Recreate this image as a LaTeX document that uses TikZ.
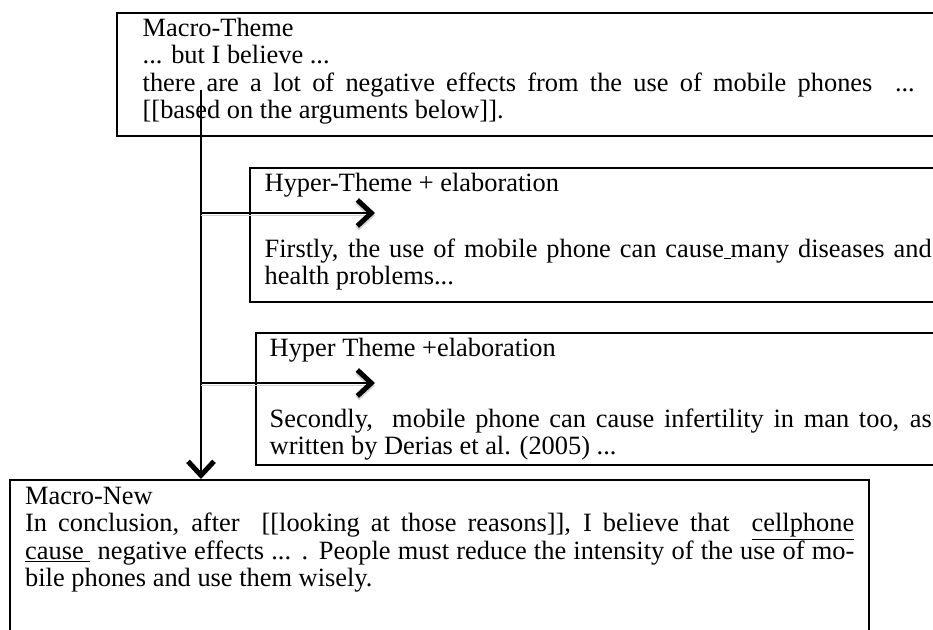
\documentclass[tikz,border=0pt]{standalone}
\usepackage{fontspec}
\setmainfont{Liberation Serif}
\usepackage{tikz}
\usetikzlibrary{arrows.meta}
\def\spineX{201}
\def\tipX{375}

\tikzset{
  panel/.style={draw, line width=2.4pt, anchor=north west, inner ysep=3.75pt,
    font=\fontsize{26.4}{27.5}\selectfont},
  flow/.style={line width=2pt, -{Straight Barb[length=14pt, width=26pt, line width=5pt]}},
  shade/.style={preaction={draw=gray!35, transform canvas={yshift=-2.5pt}}},
}

\begin{document}
\begin{tikzpicture}[x=1pt, y=-1pt]
            \useasboundingbox (0,0) rectangle (933,629);
            \clip (0,0) rectangle (933,629);

            % Draw theme boxes
            \node[panel, inner xsep=25.5pt] (macroTheme) at (116,12) {\parbox[t][115.5pt][t]{772pt}{\strut Macro-Theme\\
                ... but I believe ...\\
                \makebox[\linewidth][s]{there are a lot of negative effects from the use of mobile phones\ \ ...}\\{}[[based on the arguments below]].}};

            \node[panel, inner xsep=14.5pt] (hyperOne) at (249,167) {\parbox[t][126.5pt][t]{667pt}{\strut Hyper-Theme + elaboration\\[38.5pt]
                \makebox[\linewidth][s]{Firstly, the use of mobile phone can cause\underline{\ }many diseases and}\\
                health problems...}};

            \node[panel, inner xsep=13.5pt] (hyperTwo) at (255,332) {\parbox[t][124.5pt][t]{662pt}{\strut Hyper Theme +elaboration\\[43.5pt]
                \makebox[\linewidth][s]{Secondly,\ \ mobile phone can cause infertility in man too, as}\\
                written by Derias et al. (2005) ...}};

            \node[panel, inner xsep=15pt, inner ysep=4.75pt] (macroNew) at (9,479) {\parbox[t][200pt][t]{829pt}{\strut Macro-New\\
                \makebox[\linewidth][s]{In conclusion, after\ \ [[looking at those reasons]], I believe that\ \ \underline{cellphone}}\\
                \makebox[\linewidth][s]{\underline{cause\ } negative effects ... . People must reduce the intensity of the use of mo-}\\
                bile phones and use them wisely.}};

            % Draw spine and branches
            \coordinate (spineTop) at (\spineX,90);
            \draw[flow] (spineTop) -- (spineTop |- macroNew.north);

            \foreach \y/\n in {213/1, 383/2} {
                \coordinate (branch\n) at (\spineX,\y);
                \coordinate (tip\n) at (\tipX,\y);
                \draw[flow, shade] (branch\n) -- (tip\n);
            }
        \end{tikzpicture}
\end{document}
